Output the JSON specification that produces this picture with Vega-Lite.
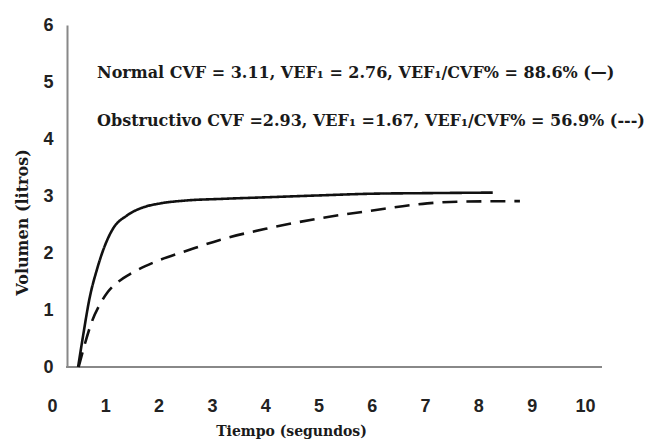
{
  "$schema": "https://vega.github.io/schema/vega-lite/v6.json",
  "autosize": "none",
  "width": 550,
  "height": 342,
  "padding": {"left": 52, "top": 25, "right": 49, "bottom": 74},
  "background": "white",
  "config": {"view": {"stroke": null}},
  "title": {
    "text": "Normal CVF = 3.11, VEF₁ = 2.76, VEF₁/CVF% = 88.6% (—)",
    "subtitle": "Obstructivo CVF =2.93, VEF₁ =1.67, VEF₁/CVF% = 56.9% (---)",
    "anchor": "start",
    "frame": "group",
    "orient": "top",
    "dx": 45,
    "dy": 117,
    "font": "DejaVu Serif",
    "fontSize": 16,
    "fontWeight": "bold",
    "color": "#1a1a1a",
    "subtitleFont": "DejaVu Serif",
    "subtitleFontSize": 16,
    "subtitleFontWeight": "bold",
    "subtitleColor": "#1a1a1a",
    "subtitlePadding": 32
  },
  "data": {
    "values": [
      {"serie": "Normal", "t": 0.49, "v": 0.0},
      {"serie": "Normal", "t": 0.58, "v": 0.53},
      {"serie": "Normal", "t": 0.71, "v": 1.23},
      {"serie": "Normal", "t": 0.84, "v": 1.70},
      {"serie": "Normal", "t": 0.96, "v": 2.05},
      {"serie": "Normal", "t": 1.14, "v": 2.42},
      {"serie": "Normal", "t": 1.41, "v": 2.66},
      {"serie": "Normal", "t": 1.71, "v": 2.80},
      {"serie": "Normal", "t": 2.03, "v": 2.87},
      {"serie": "Normal", "t": 2.5, "v": 2.92},
      {"serie": "Normal", "t": 3.2, "v": 2.95},
      {"serie": "Normal", "t": 4.1, "v": 2.98},
      {"serie": "Normal", "t": 5.0, "v": 3.01},
      {"serie": "Normal", "t": 6.0, "v": 3.04},
      {"serie": "Normal", "t": 7.0, "v": 3.05},
      {"serie": "Normal", "t": 8.27, "v": 3.06},
      {"serie": "Obstructivo", "t": 0.5, "v": 0.0},
      {"serie": "Obstructivo", "t": 0.6, "v": 0.35},
      {"serie": "Obstructivo", "t": 0.75, "v": 0.80},
      {"serie": "Obstructivo", "t": 0.9, "v": 1.10},
      {"serie": "Obstructivo", "t": 1.05, "v": 1.32},
      {"serie": "Obstructivo", "t": 1.25, "v": 1.50},
      {"serie": "Obstructivo", "t": 1.5, "v": 1.65},
      {"serie": "Obstructivo", "t": 1.75, "v": 1.77},
      {"serie": "Obstructivo", "t": 2.03, "v": 1.88},
      {"serie": "Obstructivo", "t": 2.5, "v": 2.03},
      {"serie": "Obstructivo", "t": 3.15, "v": 2.23},
      {"serie": "Obstructivo", "t": 4.09, "v": 2.44},
      {"serie": "Obstructivo", "t": 5.03, "v": 2.61},
      {"serie": "Obstructivo", "t": 5.97, "v": 2.74},
      {"serie": "Obstructivo", "t": 7.04, "v": 2.87},
      {"serie": "Obstructivo", "t": 7.6, "v": 2.90},
      {"serie": "Obstructivo", "t": 8.78, "v": 2.91}
    ]
  },
  "layer": [
    {
      "mark": {"type": "rule", "color": "#888888", "strokeWidth": 2},
      "encoding": {
        "x": {"datum": 0.28, "type": "quantitative"},
        "x2": {"datum": 10.32},
        "y": {"datum": 0, "type": "quantitative"}
      }
    },
    {
      "mark": {"type": "line", "interpolate": "monotone", "strokeWidth": 2.6, "color": "#111111"},
      "encoding": {
        "x": {
          "field": "t",
          "type": "quantitative",
          "scale": {"domain": [0, 10.32], "nice": false, "zero": false},
          "axis": {
            "values": [0, 1, 2, 3, 4, 5, 6, 7, 8, 9, 10],
            "format": "d",
            "title": "Tiempo (segundos)",
            "titleFont": "DejaVu Serif",
            "titleFontSize": 14,
            "titleFontWeight": "bold",
            "titleColor": "#1a1a1a",
            "titleX": 239,
            "titleY": 57,
            "grid": false,
            "domain": false,
            "ticks": false,
            "tickSize": 0,
            "labelFont": "Liberation Sans",
            "labelFontSize": 18,
            "labelFontWeight": "bold",
            "labelColor": "#222222",
            "labelPadding": 30,
            "labelFlush": false,
            "labelOverlap": false,
            "labelBound": false
          }
        },
        "y": {
          "field": "v",
          "type": "quantitative",
          "scale": {"domain": [0, 6], "nice": false},
          "axis": {
            "values": [0, 1, 2, 3, 4, 5, 6],
            "format": "d",
            "offset": -15,
            "title": "Volumen (litros)",
            "titleFont": "DejaVu Serif",
            "titleFontSize": 16,
            "titleFontWeight": "bold",
            "titleColor": "#1a1a1a",
            "titlePadding": 12,
            "titleY": 197,
            "grid": false,
            "ticks": false,
            "tickSize": 0,
            "domainColor": "#888888",
            "domainWidth": 2,
            "labelFont": "Liberation Sans",
            "labelFontSize": 18,
            "labelFontWeight": "bold",
            "labelColor": "#222222",
            "labelPadding": 14,
            "labelOverlap": false
          }
        },
        "strokeDash": {
          "field": "serie",
          "type": "nominal",
          "scale": {"domain": ["Normal", "Obstructivo"], "range": [[1, 0], [15, 9]]},
          "legend": null
        }
      }
    }
  ]
}
